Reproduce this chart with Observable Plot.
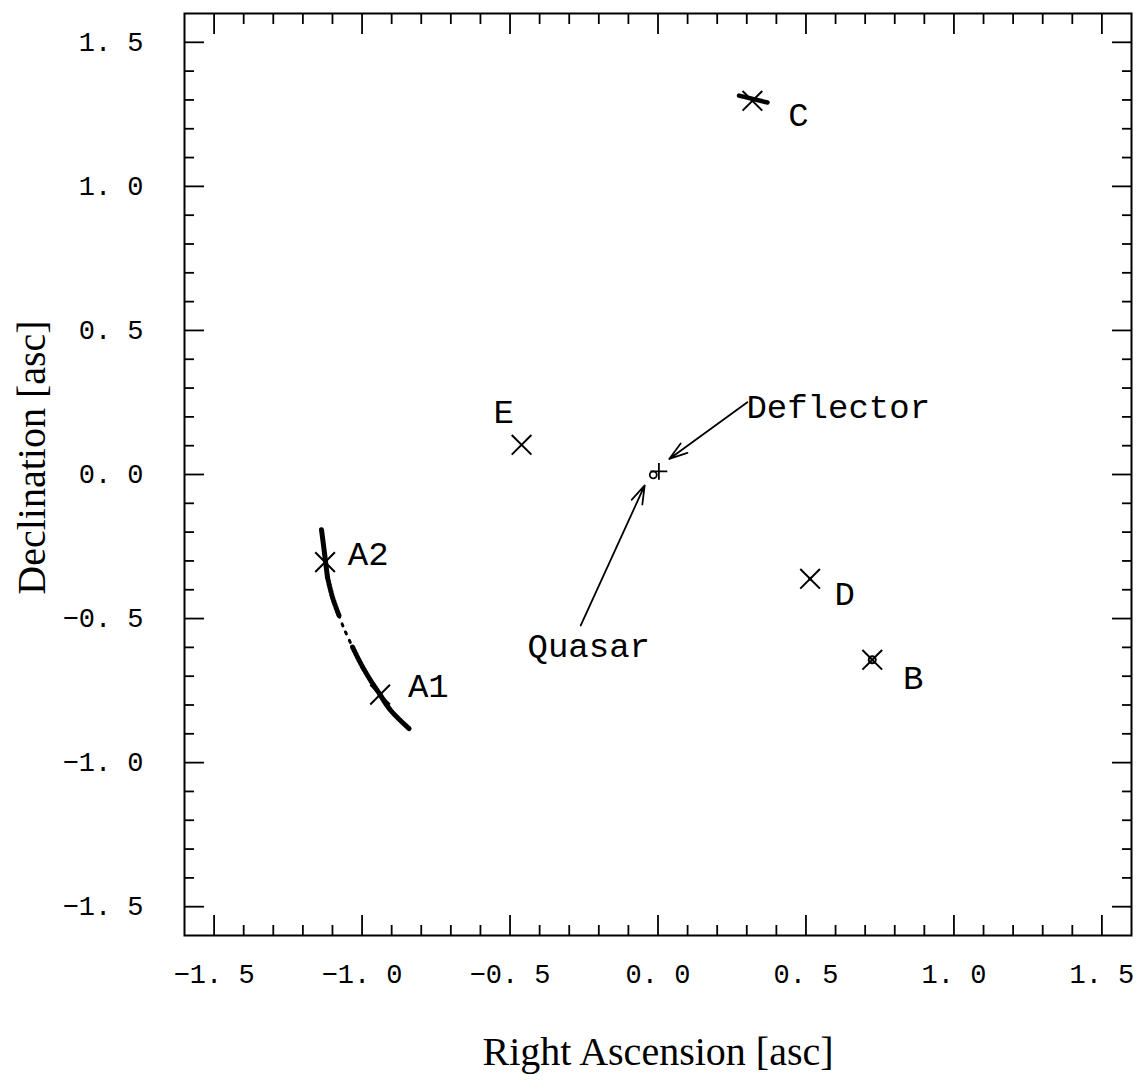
<!DOCTYPE html>
<html><head><meta charset="utf-8">
<script src="https://cdn.jsdelivr.net/npm/d3@7"></script>
<script src="https://cdn.jsdelivr.net/npm/@observablehq/plot@0.6"></script>
<style>body{margin:0;background:#fff}</style>
</head><body><div id="chart"></div>
<script>
// Image positions (Right Ascension, Declination in arcsec)
const markerNames = ["A2", "A1", "E", "C", "D", "B"];
const markerRA  = [-1.125, -0.939, -0.461, 0.319, 0.514, 0.724];
const markerDec = [-0.304, -0.764, 0.103, 1.297, -0.362, -0.643];

// Text labels
const labelNames = ["A2", "A1", "E", "C", "D", "B", "Deflector", "Quasar"];
const labelRA  = [-0.979, -0.776, -0.521, 0.475, 0.631, 0.862, 0.609, -0.234];
const labelDec = [-0.277, -0.735, 0.217, 1.246, -0.416, -0.708, 0.234, -0.597];

// Arc of images A1/A2
const arcRA  = [-1.137, -1.128, -1.117, -1.100, -1.078, -1.061, -1.032, -1.004, -0.971, -0.939, -0.903, -0.841];
const arcDec = [-0.192, -0.264, -0.356, -0.426, -0.489, -0.535, -0.599, -0.657, -0.715, -0.764, -0.819, -0.882];

// Short track at image C
const trackRA  = [0.274, 0.370];
const trackDec = [1.315, 1.291];

// Deflector and quasar
const deflectorRA = [0.003], deflectorDec = [0.011];
const quasarRA = [-0.016], quasarDec = [-0.001];

// Arrows from labels
const arrowNames = ["Deflector", "Quasar"];
const arrowFromRA  = [0.302, -0.261];
const arrowFromDec = [0.251, -0.524];
const arrowToRA    = [0.038, -0.045];
const arrowToDec   = [0.054, -0.038];

// Ticks
const majorTicks = [-1.5, -1.0, -0.5, 0.0, 0.5, 1.0, 1.5];
const majorTickLabels = ["\u22121. 5", "\u22121. 0", "\u22120. 5", "0. 0", "0. 5", "1. 0", "1. 5"];
const minorTicks = [-1.4, -1.3, -1.2, -1.1, -0.9, -0.8, -0.7, -0.6, -0.4, -0.3, -0.2, -0.1,
                    0.1, 0.2, 0.3, 0.4, 0.6, 0.7, 0.8, 0.9, 1.1, 1.2, 1.3, 1.4];
const xTitle = "Right Ascension [asc]";
const yTitle = "Declination [asc]";

const mono = "'Liberation Mono', 'DejaVu Sans Mono', monospace";
const serif = "'Liberation Serif', 'DejaVu Serif', serif";
const fmt = d => majorTickLabels[majorTicks.indexOf(d)];
const idx = arr => (d, i) => arr[i];

const arcPts = arcRA.map((x, i) => ({x, y: arcDec[i], i}));
const part = (a, b) => arcPts.filter(p => p.i >= a && p.i <= b);

const tickAxes = [];
for (const anchor of ["bottom", "top"]) {
  tickAxes.push(Plot.axisX({ticks: majorTicks, anchor, tickSize: -20, tickFormat: () => "", label: null, strokeWidth: 1.8}));
  tickAxes.push(Plot.axisX({ticks: minorTicks, anchor, tickSize: -10, tickFormat: () => "", label: null, strokeWidth: 1.8}));
}
for (const anchor of ["left", "right"]) {
  tickAxes.push(Plot.axisY({ticks: majorTicks, anchor, tickSize: -20, tickFormat: () => "", label: null, strokeWidth: 1.8}));
  tickAxes.push(Plot.axisY({ticks: minorTicks, anchor, tickSize: -10, tickFormat: () => "", label: null, strokeWidth: 1.8}));
}

const chart = Plot.plot({
  width: 1136,
  height: 1088,
  marginLeft: 184,
  marginRight: 5,
  marginTop: 13,
  marginBottom: 153,
  style: {background: "white", color: "black"},
  x: {domain: [-1.6, 1.6]},
  y: {domain: [-1.6, 1.6]},
  marks: [
    Plot.frame({stroke: "black", strokeWidth: 2}),
    ...tickAxes,
    Plot.axisX({ticks: majorTicks, anchor: "bottom", tickSize: 0, tickPadding: 28, tickFormat: fmt, label: null,
      fontSize: 27, fontFamily: mono}),
    Plot.axisY({ticks: majorTicks, anchor: "left", tickSize: 0, tickPadding: 41, tickFormat: fmt, label: null,
      fontSize: 27, fontFamily: mono}),
    Plot.text([xTitle], {frameAnchor: "bottom", dy: 117, text: d => d, textAnchor: "middle", lineAnchor: "middle",
      fontSize: 40, fontFamily: serif}),
    Plot.text([yTitle], {frameAnchor: "left", dx: -152, dy: -17, rotate: -90, text: d => d, textAnchor: "middle", lineAnchor: "middle",
      fontSize: 40, fontFamily: serif}),
    // arc
    Plot.line(part(0, 2), {x: "x", y: "y", curve: "catmull-rom", strokeWidth: 5, strokeLinecap: "round"}),
    Plot.line(part(2, 4), {x: "x", y: "y", curve: "catmull-rom", strokeWidth: 5, strokeDasharray: "1.5,2"}),
    Plot.line(part(4, 6), {x: "x", y: "y", curve: "catmull-rom", strokeWidth: 3, strokeDasharray: "2,7", strokeLinecap: "round"}),
    Plot.line(part(6, 9), {x: "x", y: "y", curve: "catmull-rom", strokeWidth: 5, strokeDasharray: "1.5,2"}),
    Plot.line(part(9, 11), {x: "x", y: "y", curve: "catmull-rom", strokeWidth: 5, strokeLinecap: "round"}),
    // track at C
    Plot.line(trackRA.map((x, i) => ({x, y: trackDec[i]})), {x: "x", y: "y", strokeWidth: 4.5}),
    // markers
    Plot.dot(markerNames, {x: idx(markerRA), y: idx(markerDec), symbol: "times", r: 9, stroke: "black", strokeWidth: 2}),
    Plot.dot(["B"], {x: markerRA[5], y: markerDec[5], r: 3.5, stroke: "black", strokeWidth: 2, fill: "none"}),
    Plot.dot(["D"], {x: markerRA[4], y: markerDec[4], r: 2, fill: "black"}),
    Plot.dot(["Deflector"], {x: idx(deflectorRA), y: idx(deflectorDec), symbol: "plus", r: 5.5, stroke: "black", strokeWidth: 1.8}),
    Plot.dot(["Quasar"], {x: idx(quasarRA), y: idx(quasarDec), r: 3.5, stroke: "black", strokeWidth: 1.8, fill: "none"}),
    // arrows
    Plot.arrow(arrowNames, {x1: idx(arrowFromRA), y1: idx(arrowFromDec), x2: idx(arrowToRA), y2: idx(arrowToDec),
      stroke: "black", strokeWidth: 1.8, headLength: 16, headAngle: 35}),
    // labels
    Plot.text(labelNames, {x: idx(labelRA), y: idx(labelDec), text: d => d, textAnchor: "middle", lineAnchor: "middle",
      fontSize: 34, fontFamily: mono})
  ]
});
document.getElementById("chart").appendChild(chart);
</script>
</body></html>
